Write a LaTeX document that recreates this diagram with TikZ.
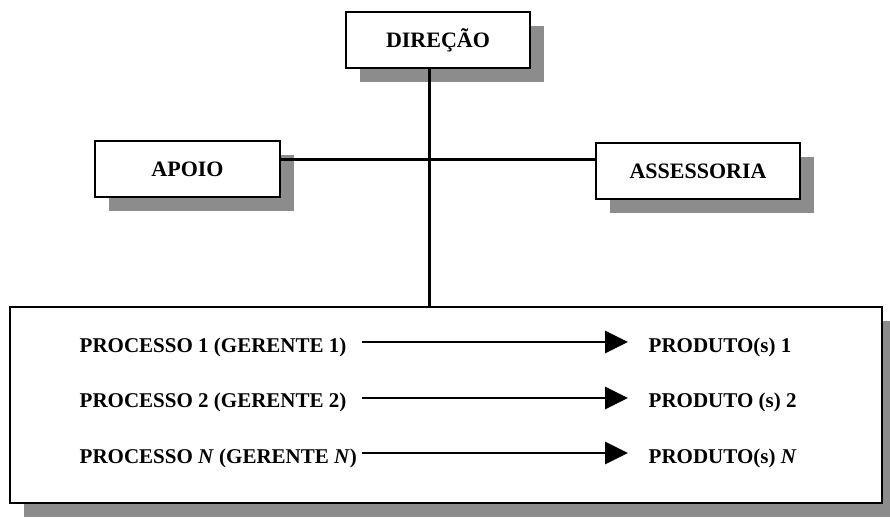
\documentclass[tikz,border=0pt]{standalone}
\usepackage{fontspec}
\setmainfont{Liberation Serif}
\usetikzlibrary{arrows.meta,shadows}

\begin{document}
\begin{tikzpicture}[x=1pt,y=-1pt,thick,
                    main node/.style={rectangle,draw,line width=2.8pt,fill=white,
                      drop shadow={shadow xshift=14pt,shadow yshift=-14pt,fill=gray!90,opacity=1},
                      font=\fontsize{22}{26}\selectfont\bfseries},
                    row node/.style={anchor=west,font=\fontsize{21}{24}\selectfont\bfseries},
                    flow/.style={line width=2.8pt,shorten >=17pt,-{Triangle[length=23pt,width=22pt]}}]
  \useasboundingbox (0,0) rectangle (890,521);

  \node[main node,minimum width=872pt,minimum height=196pt] (big) at (446,405) {};
  \node[main node,minimum width=184pt,minimum height=56pt] (dir) at (438,40) {DIREÇÃO};
  \node[main node,minimum width=185pt,minimum height=56pt] (apoio) at (187.5,169) {APOIO};
  \node[main node,minimum width=204pt,minimum height=56pt] (assess) at (698,171) {ASSESSORIA};

  \coordinate (j) at (429,160);

  % links between the boxes
  \draw[line width=3pt] (apoio.east |- j) -- (assess.west |- j);
  \draw[line width=3pt] (dir.south -| j) -- (big.north -| j);

  % process rows
  \node[row node] (p1) at (76,347) {PROCESSO 1 (GERENTE 1)};
  \node[row node] (p2) at (76,402) {PROCESSO 2 (GERENTE 2)};
  \node[row node] (p3) at (76,458) {PROCESSO \textit{N} (GERENTE \textit{N})};
  \node[row node] (r1) at (645,347) {PRODUTO(s) 1};
  \node[row node] (r2) at (645,402) {PRODUTO (s) 2};
  \node[row node] (r3) at (645,458) {PRODUTO(s) \textit{N}};

  \coordinate (s1) at (362,342);
  \coordinate (s2) at (362,398);
  \coordinate (s3) at (362,453);

  \draw[flow] (s1) -- (r1.west |- s1);
  \draw[flow] (s2) -- (r2.west |- s2);
  \draw[flow] (s3) -- (r3.west |- s3);
\end{tikzpicture}
\end{document}
